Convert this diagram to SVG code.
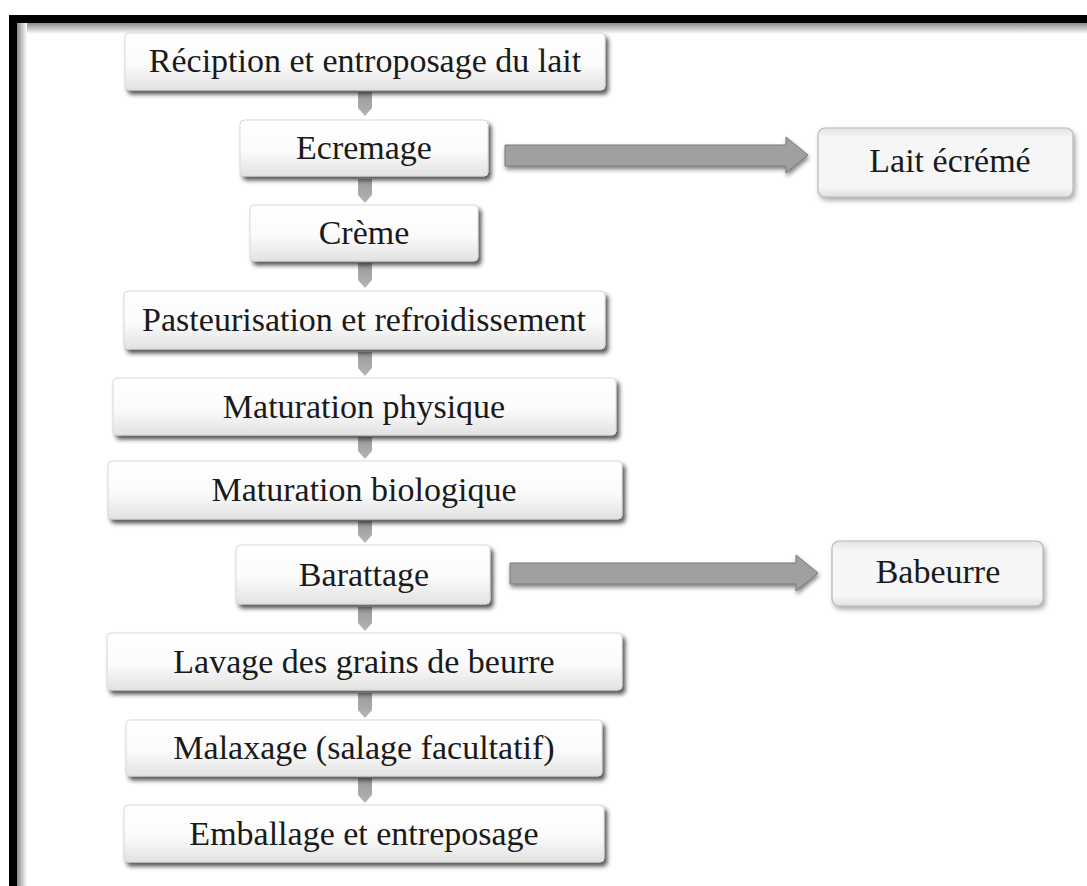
<svg xmlns="http://www.w3.org/2000/svg" width="1087" height="886" viewBox="0 0 1087 886">
<defs>
<style>
.box{fill:url(#gBox);stroke:#d8d8d8;stroke-width:1;filter:url(#sh)}
.side{fill:url(#gSide);stroke:#b8b8b8;stroke-width:1.2;filter:url(#sh2)}
.t{font-family:"Liberation Serif","Times New Roman",serif;font-size:34px;fill:#1a1a1a;text-anchor:middle}
.dn{fill:url(#gDn)}
.bar{fill:#a0a0a0;stroke:#7a7a7a;stroke-width:1;filter:url(#sh3)}
</style>
<linearGradient id="gBox" x1="0" y1="0" x2="0" y2="1">
<stop offset="0" stop-color="#ffffff"/>
<stop offset="0.55" stop-color="#fbfbfb"/>
<stop offset="1" stop-color="#e2e2e2"/>
</linearGradient>
<linearGradient id="gSide" x1="0" y1="0" x2="0" y2="1">
<stop offset="0" stop-color="#e4e4e4"/>
<stop offset="0.15" stop-color="#f6f6f6"/>
<stop offset="0.85" stop-color="#f6f6f6"/>
<stop offset="1" stop-color="#e0e0e0"/>
</linearGradient>
<linearGradient id="gDn" x1="0" y1="0" x2="0" y2="1">
<stop offset="0" stop-color="#9a9a9a"/>
<stop offset="1" stop-color="#b4b4b4"/>
</linearGradient>
<linearGradient id="gTop" x1="0" y1="0" x2="0" y2="1">
<stop offset="0" stop-color="#8a8a8a"/>
<stop offset="1" stop-color="#ffffff"/>
</linearGradient>
<linearGradient id="gLeft" x1="0" y1="0" x2="1" y2="0">
<stop offset="0" stop-color="#8a8a8a"/>
<stop offset="1" stop-color="#ffffff"/>
</linearGradient>
<filter id="sh" x="-10%" y="-30%" width="120%" height="170%">
<feDropShadow dx="3" dy="4" stdDeviation="2" flood-color="#222" flood-opacity="0.75"/>
</filter>
<filter id="sh2" x="-10%" y="-30%" width="120%" height="170%">
<feDropShadow dx="2" dy="3" stdDeviation="2.5" flood-color="#555" flood-opacity="0.5"/>
</filter>
<filter id="sh3" x="-10%" y="-50%" width="120%" height="200%">
<feDropShadow dx="1" dy="3" stdDeviation="2" flood-color="#333" flood-opacity="0.6"/>
</filter>
</defs>
<rect x="0" y="0" width="1087" height="886" fill="#ffffff"/>
<g id="frame">
<rect x="17" y="23" width="1070" height="11" fill="url(#gTop)"/>
<rect x="17" y="23" width="10" height="863" fill="url(#gLeft)"/>
<rect x="9" y="15" width="1078" height="8" fill="#000"/>
<rect x="9" y="15" width="8" height="871" fill="#000"/>
</g>
<g id="connectors">
<polygon class="dn" points="358,92 372,92 372,108 365,116 358,108"/>
<polygon class="dn" points="358,179 372,179 372,195 365,203 358,195"/>
<polygon class="dn" points="358,263 372,263 372,280 365,288 358,280"/>
<polygon class="dn" points="358,352 372,352 372,368 365,376 358,368"/>
<polygon class="dn" points="358,437 372,437 372,451 365,459 358,451"/>
<polygon class="dn" points="358,521 372,521 372,535 365,543 358,535"/>
<polygon class="dn" points="358,607 372,607 372,623 365,631 358,623"/>
<polygon class="dn" points="358,693 372,693 372,710 365,718 358,710"/>
<polygon class="dn" points="358,778 372,778 372,795 365,803 358,795"/>
<polygon class="bar" points="505,145 786,145 786,137 808,155 786,173 786,166 505,166"/>
<polygon class="bar" points="510,563 796,563 796,555 818,573 796,591 796,584 510,584"/>
</g>
<g id="n1"><rect class="box" x="125" y="33" width="480" height="57" rx="4"/><text class="t" x="365" y="72">Réciption et entroposage du lait</text></g>
<g id="n2"><rect class="box" x="240" y="120" width="248" height="56" rx="4"/><text class="t" x="364" y="159">Ecremage</text></g>
<g id="n3"><rect class="box" x="250" y="205" width="228" height="56" rx="4"/><text class="t" x="364" y="244">Crème</text></g>
<g id="n4"><rect class="box" x="124" y="291" width="481" height="58" rx="4"/><text class="t" x="364" y="331">Pasteurisation et refroidissement</text></g>
<g id="n5"><rect class="box" x="113" y="378" width="503" height="57" rx="4"/><text class="t" x="364" y="418">Maturation physique</text></g>
<g id="n6"><rect class="box" x="108" y="461" width="514" height="58" rx="4"/><text class="t" x="364" y="501">Maturation biologique</text></g>
<g id="n7"><rect class="box" x="236" y="545" width="254" height="59" rx="4"/><text class="t" x="364" y="586">Barattage</text></g>
<g id="n8"><rect class="box" x="107" y="633" width="515" height="57" rx="4"/><text class="t" x="364" y="673">Lavage des grains de beurre</text></g>
<g id="n9"><rect class="box" x="126" y="720" width="476" height="56" rx="4"/><text class="t" x="364" y="759">Malaxage (salage facultatif)</text></g>
<g id="n10"><rect class="box" x="124" y="805" width="480" height="57" rx="4"/><text class="t" x="364" y="845">Emballage et entreposage</text></g>
<g id="s1"><rect class="side" x="818" y="128" width="255" height="69" rx="7"/><text class="t" x="950" y="172">Lait écrémé</text></g>
<g id="s2"><rect class="side" x="832" y="541" width="211" height="65" rx="7"/><text class="t" x="938" y="583">Babeurre</text></g>
</svg>
